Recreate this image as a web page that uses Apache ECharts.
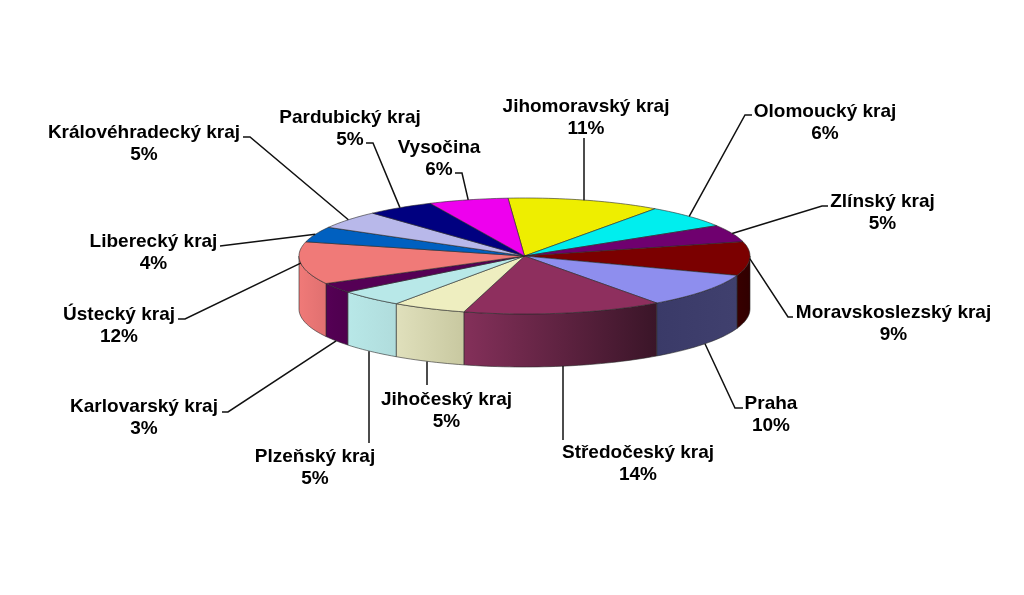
<!DOCTYPE html>
<html><head><meta charset="utf-8">
<style>html,body{margin:0;padding:0;background:#fff}#c{width:1024px;height:595px}</style>
<script src="https://cdn.jsdelivr.net/npm/echarts@6/dist/echarts.min.js"></script>
</head><body><div id="c"></div>
<script>
// Data (clockwise from the top)
const categories = ['Jihomoravský kraj','Olomoucký kraj','Zlínský kraj','Moravskoslezský kraj','Praha','Středočeský kraj','Jihočeský kraj','Plzeňský kraj','Karlovarský kraj','Ústecký kraj','Liberecký kraj','Královéhradecký kraj','Pardubický kraj','Vysočina'];
const values = [11.0,6.4,4.8,9.4,9.6,14.3,5.3,4.7,2.8,11.8,4.3,5.0,4.9,5.7];

// Styling
const topColors = ['#eeee00','#00eeee','#6f006f','#7b0000','#8e8eee','#8e2f5e','#eeeec0','#b8e8e8','#550055','#f07a78','#0060c0','#b8b8ea','#000080','#ee00ee'];
const wallColors = {3:['#380000','#300000'],4:['#3a3a68','#40406e'],5:['#84305a','#3a1528'],6:['#e0e0bc','#c8c8a0'],7:['#b8e8e8','#b0dcdc'],8:['#550055','#4e004e'],9:['#f07a78','#e07070']};

// Layout
const CX = 524.5, CY = 256, RX = 225.5, RY = 58, DEPTH = 53, START = -4.2;
const labelCentres = [[586,117.5],[825,122.5],[882.5,212.5],[893.5,323.5],[771,414.5],[638,463.5],[446.5,410.5],[315,467.5],[144,417.5],[119,325.5],[153.5,252.5],[144,144],[350,128.5],[439,158.5]];
const leaderBends = [[[584,138]],[[752,115],[745,115]],[[828,206],[822,206]],[[793,317],[788,317]],[[743,408],[735,408]],[[563,440]],[[427,385]],[[369,443]],[[222,412],[228,412]],[[178,319],[185,319]],[[220,246]],[[243,137],[250,137]],[[366,143],[373,143]],[[455,173],[462,173]]];

const total = values.reduce((a,b)=>a+b,0);
const rim = (deg, dy) => { const t = deg*Math.PI/180; return [CX+RX*Math.sin(t), CY-RY*Math.cos(t)+(dy||0)]; };
function arc(a, b, dy){ const n = Math.max(2,Math.ceil(Math.abs(b-a)/1.5)), p=[]; for(let i=0;i<=n;i++) p.push(rim(a+(b-a)*i/n,dy)); return p; }

function renderItem(params, api){
  const i = params.dataIndex;
  let sum = 0; for(let k=0;k<i;k++) sum += values[k];
  const a = START + sum/total*360, b = a + api.value(0)/total*360, mid = (a+b)/2;
  const children = [];
  const wa = Math.max(a,90), wb = Math.min(b,270);
  if (wb > wa) {
    const top = arc(wa,wb,0), bot = arc(wb,wa,DEPTH);
    const c = wallColors[i];
    children.push({type:'polygon',shape:{points:top.concat(bot)},style:{
      fill:{type:'linear',x:0,y:0,x2:1,y2:0,colorStops:[{offset:0,color:c[0]},{offset:1,color:c[1]}]},
      stroke:'#2a2a2a',lineWidth:0.6}});
  }
  children.push({type:'polygon',shape:{points:[[CX,CY]].concat(arc(a,b,0))},style:{fill:topColors[i],stroke:'#2a2a2a',lineWidth:0.6}});
  const onWall = mid>100 && mid<250;
  const end = rim(mid, onWall?DEPTH:0);
  const bends = leaderBends[i];
  if (bends.length===1 && Math.abs(bends[0][0]-end[0])<4) end[0] = bends[0][0];
  children.push({type:'polyline',shape:{points:bends.concat([end])},style:{fill:null,stroke:'#111',lineWidth:1.5}});
  children.push({type:'text',style:{x:labelCentres[i][0],y:labelCentres[i][1],text:categories[i]+'\n'+Math.round(api.value(0))+'%',
    align:'center',verticalAlign:'middle',lineHeight:22,fill:'#000',font:"bold 19px 'Liberation Sans', Arial, sans-serif"}});
  return {type:'group',children};
}

const chart = echarts.init(document.getElementById('c'),null,{renderer:'canvas'});
chart.setOption({
  animation:false,
  backgroundColor:'#fff',
  series:[{type:'custom',coordinateSystem:'none',renderItem,data:values.map(v=>[v]),silent:true}]
});
</script></body></html>
